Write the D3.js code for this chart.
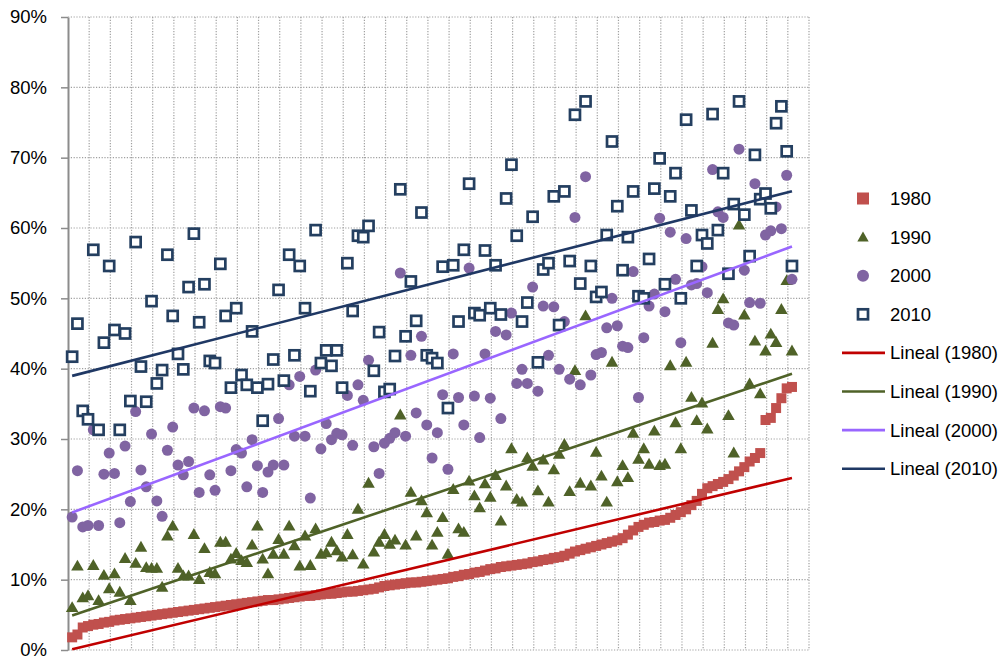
<!DOCTYPE html>
<html><head><meta charset="utf-8">
<script src="https://cdn.jsdelivr.net/npm/d3@7"></script>
<style>
body{margin:0;background:#fff}
svg{display:block}
text{font-family:"Liberation Sans",Arial,sans-serif;fill:#000}
</style>
</head><body>
<svg id="chart" width="1002" height="659"></svg>
<script>
// ---------- data ----------
const categoryCount = 140;          // category slots on the horizontal axis
const yTicks = [0,10,20,30,40,50,60,70,80,90];
const seriesNames = ["1980","1990","2000","2010"];
const trendNames = ["Lineal (1980)","Lineal (1990)","Lineal (2000)","Lineal (2010)"];

const s1980 = [1.8,2.2,3.2,3.4,3.6,3.7,3.9,4.0,4.2,4.3,
4.4,4.5,4.6,4.7,4.8,4.9,5.0,5.1,5.2,5.3,
5.4,5.5,5.6,5.7,5.8,5.9,6.0,6.1,6.2,6.3,
6.4,6.5,6.6,6.7,6.8,6.9,7.0,7.1,7.1,7.2,
7.3,7.4,7.5,7.6,7.7,7.7,7.8,7.9,8.0,8.0,
8.1,8.2,8.3,8.3,8.4,8.5,8.6,8.7,8.9,9.1,
9.2,9.3,9.4,9.5,9.6,9.6,9.7,9.8,9.9,10.0,
10.1,10.2,10.4,10.5,10.7,10.8,11.0,11.1,11.3,11.5,
11.6,11.8,11.9,12.0,12.1,12.2,12.3,12.5,12.6,12.8,
12.9,13.1,13.2,13.4,13.7,14.0,14.2,14.4,14.6,14.8,
15.0,15.2,15.4,15.6,15.9,16.4,17.0,17.5,17.8,18.1,
18.2,18.4,18.5,18.8,19.2,19.6,20.0,20.6,21.2,22.2,
23.0,23.3,23.6,23.9,24.3,24.8,25.4,26.0,26.8,27.3,
28.0,32.7,33.0,34.4,35.8,37.2,37.4];

const s1990 = [5.9,11.8,7.3,7.6,11.9,6.9,10.5,8.6,10.7,8.1,
12.9,6.9,12.2,14.5,11.6,11.5,11.5,8.8,16.1,17.5,
11.5,10.4,10.4,16.3,9.9,14.3,10.9,10.7,15.2,15.2,
12.8,13.6,12.6,12.3,14.8,17.5,12.8,10.7,13.5,15.6,
13.5,17.5,14.7,11.8,16.1,11.9,17.1,13.5,13.7,15.2,
14.0,13.1,16.3,13.4,19.9,12.1,23.6,13.8,15.2,16.3,
14.9,15.5,33.3,14.8,22.3,16.1,21.1,19.4,14.8,16.6,
18.7,13.5,22.7,17.1,16.6,23.9,21.8,20.1,23.5,21.6,
24.7,18.2,23.2,28.5,21.3,20.9,27.2,26.0,22.5,26.9,
20.9,25.5,27.7,29.1,22.4,39.6,23.6,47.4,23.2,28.0,
24.6,20.9,40.8,23.8,26.1,24.4,30.7,27.0,28.5,26.3,
31.0,26.1,26.3,40.3,32.2,28.5,40.8,35.8,32.5,35.0,
31.3,43.5,48.3,49.8,33.2,27.9,60.3,47.5,37.7,43.8,
36.3,42.4,44.8,43.6,48.3,52.4,42.4];

const s2000 = [18.9,25.5,17.5,17.7,31.3,17.7,25.0,28.0,25.1,18.1,
29.0,21.1,33.9,25.6,23.2,30.7,21.2,19.0,28.4,31.7,
26.3,24.9,26.8,34.4,22.4,34.0,24.9,22.7,34.6,34.4,
25.5,28.5,28.0,23.2,29.9,26.2,22.4,25.3,26.3,32.9,
26.3,37.7,30.4,38.9,30.4,21.6,39.8,28.6,32.2,29.9,
30.8,30.6,36.2,29.1,37.7,35.5,41.2,28.9,25.1,29.4,
30.1,30.9,53.6,30.4,41.9,33.7,44.6,32.0,27.3,30.9,
36.3,25.7,42.1,35.9,32.0,54.3,36.1,30.2,42.1,35.8,
45.3,32.9,44.8,47.9,37.9,39.9,37.9,51.6,36.8,48.9,
41.9,48.8,39.9,46.7,38.5,61.5,37.7,67.3,39.1,42.0,
42.3,45.8,50.0,46.1,43.2,43.0,53.8,35.9,44.4,48.9,
50.6,61.4,48.1,59.4,52.7,43.7,58.5,51.9,52.1,54.5,
50.8,68.3,62.3,61.5,46.5,46.2,71.2,54.0,49.4,66.3,
49.3,59.0,59.6,63.0,59.9,67.5,52.7];

const s2010 = [41.7,46.4,34.0,32.8,56.9,31.3,43.7,54.6,45.5,31.3,
45.0,35.4,58.0,40.3,35.3,49.6,37.9,39.8,56.2,47.5,
42.1,39.9,51.6,59.2,46.6,52.0,41.1,40.8,54.9,47.5,
37.3,48.6,39.1,37.7,45.3,37.3,32.6,37.8,41.3,51.2,
38.3,56.2,41.9,54.6,48.6,36.8,59.7,40.8,42.6,40.4,
42.6,37.3,55.0,48.2,58.9,58.7,60.3,39.7,45.2,36.7,
37.1,41.8,65.5,44.6,52.4,46.8,62.2,41.9,41.5,40.8,
54.5,34.4,54.7,46.7,56.9,66.3,47.9,47.6,56.8,48.6,
54.7,47.7,64.2,69.0,58.9,46.7,49.4,61.6,40.9,54.1,
55.0,64.5,46.2,65.2,55.3,76.1,52.1,78.0,54.6,50.2,
50.9,59.0,72.3,63.1,54.0,58.7,65.2,50.3,50.0,55.6,
65.6,69.9,52.0,64.5,67.8,50.0,75.4,62.5,54.6,59.0,
57.8,76.2,59.7,67.8,53.5,63.4,78.0,61.9,56.0,70.4,
64.1,64.9,62.8,74.9,77.3,70.9,54.6];

// ---------- setup ----------
const svg = d3.select("#chart");
const L = 68, R = 809, T = 17, B = 650;
const x = d3.scaleBand().domain(d3.range(categoryCount)).range([L, R]).padding(0);
const y = d3.scaleLinear().domain([0, 90]).range([B, T]);
const cx = i => x(i) + x.bandwidth() / 2 + 1.5;

const grid = svg.append("g");
// horizontal gridlines
grid.selectAll("line.h").data(yTicks).join("line")
  .attr("x1", L).attr("x2", R)
  .attr("y1", d => y(d)).attr("y2", d => y(d))
  .attr("stroke", "#a0a0a0").attr("stroke-width", 1.2)
  .attr("stroke-dasharray", "1.2,1.6");
// vertical gridlines every 4 categories
const vIdx = d3.range(4, categoryCount + 1, 4);
grid.selectAll("line.v").data(vIdx).join("line")
  .attr("x1", d => d === categoryCount ? R : x(d))
  .attr("x2", d => d === categoryCount ? R : x(d))
  .attr("y1", T).attr("y2", B)
  .attr("stroke", "#a0a0a0").attr("stroke-width", 1.2)
  .attr("stroke-dasharray", "1.2,1.6");

// y axis
const yAxis = d3.axisLeft(y).tickValues(yTicks).tickFormat(d => d + "%")
  .tickSize(7).tickSizeOuter(0).tickPadding(14);
const ga = svg.append("g").attr("transform", `translate(${L},0)`).call(yAxis);
ga.select(".domain").attr("stroke", "#8c8c8c").attr("stroke-width", 2);
ga.selectAll(".tick line").attr("stroke", "#8c8c8c").attr("stroke-width", 1.5);
ga.selectAll(".tick text").style("font-size", "18.5px").style("font-family", '"Liberation Sans",Arial,sans-serif').attr("fill", "#000");

// ---------- series ----------
const colors = {r:"#C0504D", g:"#4F6228", p:"#8064A2", n:"#243F60"};
const trendColors = ["#C00000", "#4F6228", "#9966FF", "#1F3864"];

const g1 = svg.append("g");
g1.selectAll("rect").data(s1980).join("rect")
  .attr("x", (d, i) => cx(i) - 5).attr("y", d => y(d) - 5)
  .attr("width", 10).attr("height", 10).attr("fill", colors.r);

const tri = d3.symbol().type(d3.symbolTriangle).size(68);
const g2 = svg.append("g");
g2.selectAll("path").data(s1990).join("path")
  .attr("d", tri)
  .attr("transform", (d, i) => `translate(${cx(i)},${y(d)})`)
  .attr("fill", colors.g);

const g3 = svg.append("g");
g3.selectAll("circle").data(s2000).join("circle")
  .attr("cx", (d, i) => cx(i)).attr("cy", d => y(d)).attr("r", 5.5)
  .attr("fill", colors.p);

const g4 = svg.append("g");
g4.selectAll("rect").data(s2010).join("rect")
  .attr("x", (d, i) => cx(i) - 5).attr("y", d => y(d) - 5)
  .attr("width", 10).attr("height", 10)
  .attr("fill", "#fff").attr("stroke", colors.n).attr("stroke-width", 2.7);

// ---------- linear trendlines ----------
function fit(vals) {
  const n = vals.length, xs = d3.range(n);
  const mx = d3.mean(xs), my = d3.mean(vals);
  let sxy = 0, sxx = 0;
  xs.forEach((xi, k) => { sxy += (xi - mx) * (vals[k] - my); sxx += (xi - mx) ** 2; });
  const b = sxy / sxx, a = my - b * mx;
  return [[0, a], [n - 1, a + b * (n - 1)]];
}
const allSeries = [s1980, s1990, s2000, s2010];
const line = d3.line().x(d => cx(d[0])).y(d => y(d[1]));
const gt = svg.append("g");
allSeries.forEach((s, k) => {
  gt.append("path").attr("d", line(fit(s)))
    .attr("fill", "none").attr("stroke", trendColors[k]).attr("stroke-width", 2.6);
});

// ---------- legend ----------
const lg = svg.append("g");
const rowY = k => 198.5 + k * 38.6;
const mx = 863, tx = 890;
lg.append("rect").attr("x", mx - 6).attr("y", rowY(0) - 6).attr("width", 12).attr("height", 12).attr("fill", colors.r);
lg.append("path").attr("d", d3.symbol().type(d3.symbolTriangle).size(56)()).attr("transform", `translate(${mx},${rowY(1) + 1})`).attr("fill", colors.g);
lg.append("circle").attr("cx", mx).attr("cy", rowY(2)).attr("r", 6).attr("fill", colors.p);
lg.append("rect").attr("x", mx - 5).attr("y", rowY(3) - 5).attr("width", 10).attr("height", 10).attr("fill", "#fff").attr("stroke", colors.n).attr("stroke-width", 2.7);
trendColors.forEach((c, k) => {
  lg.append("line").attr("x1", 842).attr("x2", 885)
    .attr("y1", rowY(4 + k)).attr("y2", rowY(4 + k))
    .attr("stroke", c).attr("stroke-width", 2.6);
});
const labels = seriesNames.concat(trendNames);
lg.selectAll("text").data(labels).join("text")
  .attr("x", tx).attr("y", (d, k) => rowY(k)).attr("dy", "0.35em")
  .style("font-size", "18.5px").text(d => d);
</script>
</body></html>
